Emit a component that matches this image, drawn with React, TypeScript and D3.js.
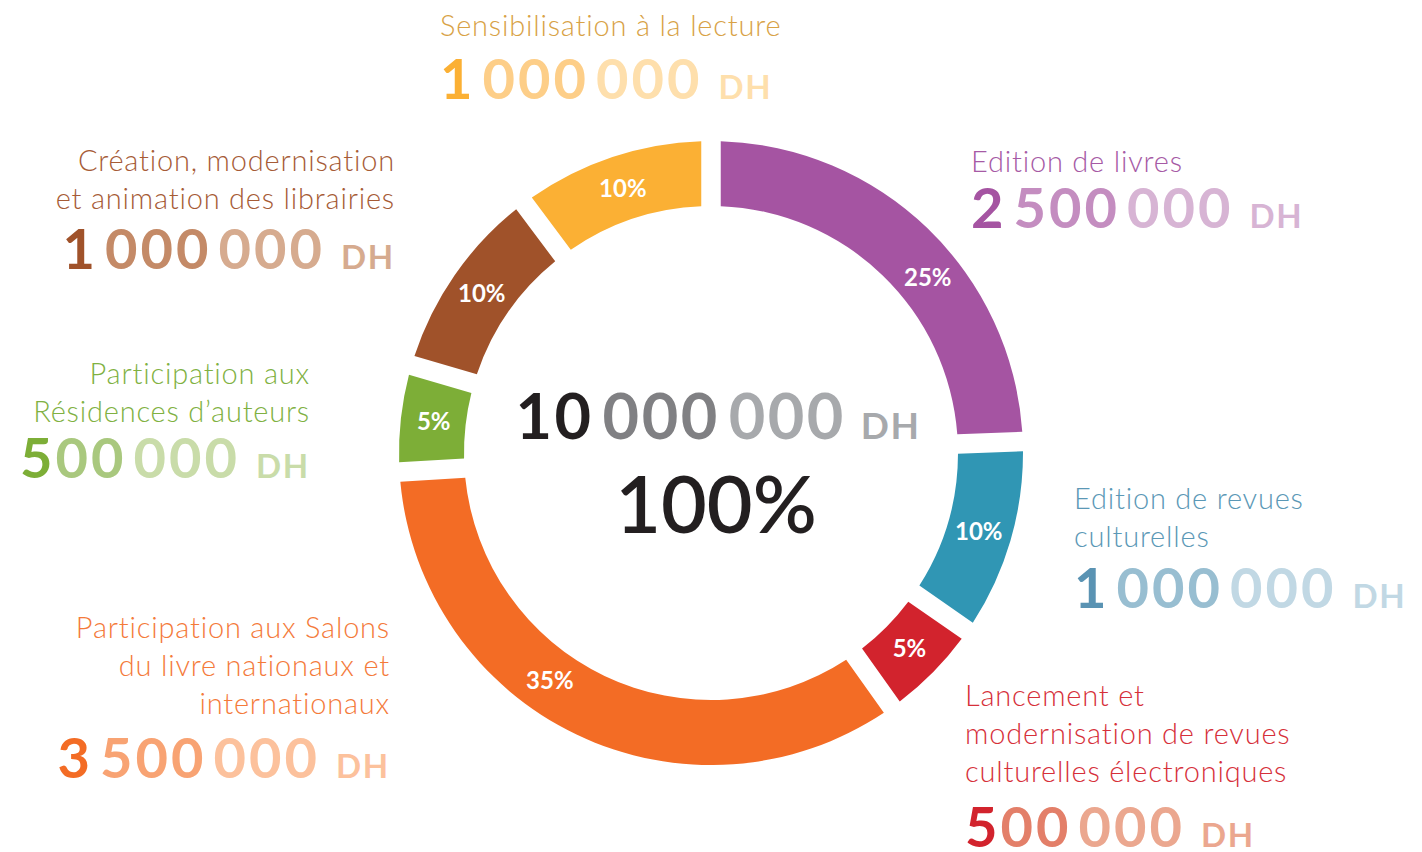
import React from "react";
import * as d3 from "d3";

// ---------- DATA ----------
const categories = [
  "Edition de livres",
  "Edition de revues culturelles",
  "Lancement et modernisation de revues culturelles électroniques",
  "Participation aux Salons du livre nationaux et internationaux",
  "Participation aux Résidences d’auteurs",
  "Création, modernisation et animation des librairies",
  "Sensibilisation à la lecture",
];
const values = [2500000, 1000000, 500000, 3500000, 500000, 1000000, 1000000];
const labelLines = [
  ["Edition de livres"],
  ["Edition de revues", "culturelles"],
  ["Lancement et", "modernisation de revues", "culturelles électroniques"],
  ["Participation aux Salons", "du livre nationaux et", "internationaux"],
  ["Participation aux", "Résidences d’auteurs"],
  ["Création, modernisation", "et animation des librairies"],
  ["Sensibilisation à la lecture"],
];
const currency = "DH";

// ---------- STYLE ----------
const sliceColors = ["#A554A2", "#3096B4", "#D2232D", "#F36C25", "#7DAE37", "#A0522A", "#FBB034"];
const textColors = ["#A65AA5", "#5B98B6", "#D6303A", "#F47A3A", "#80B142", "#A65B36", "#D8A246"];
const darkTones = ["#A554A2", "#5A93B3", "#D2232D", "#F36C25", "#7DAE37", "#A0522A", "#FBB034"];
const midTones = ["#C48DC0", "#98BED1", "#E37F69", "#F8A373", "#A9C87E", "#C48A67", "#FDCE88"];
const lightTones = ["#D7B4D4", "#C1D8E4", "#EBA78F", "#FCC19C", "#C9DCA9", "#D6AB8F", "#FEDFAC"];

// label layout: x, anchor, first line baseline, number baseline
const layout = [
  { x: 971, anchor: "start", y0: 172, numberY: 228 },
  { x: 1074, anchor: "start", y0: 509, numberY: 608 },
  { x: 965, anchor: "start", y0: 706, numberY: 847 },
  { x: 390, anchor: "end", y0: 638, numberY: 778 },
  { x: 310, anchor: "end", y0: 384, numberY: 478 },
  { x: 395, anchor: "end", y0: 171, numberY: 269 },
  { x: 440, anchor: "start", y0: 36, numberY: 99 },
];

const W = 1422;
const H = 852;
const cx = 711;
const cy = 453;
const outerR = 312;
const innerR = 247;
const FONT = "Lato, 'Open Sans', 'Noto Sans', sans-serif";

function splitNumber(v: number): string[] {
  const groups = d3.format(",")(v).split(",");
  if (groups.length === 2) {
    // e.g. 500 000 -> "5", "00", "000"
    return [groups[0].slice(0, 1), groups[0].slice(1), groups[1]];
  }
  return groups;
}

function NumberText({ v, x, y, anchor, tones, size, dhSize, weight, ls, gap, dhGap }: any) {
  const parts = splitNumber(v);
  const split = v < 1000000;
  return (
    <text
      x={x}
      y={y}
      textAnchor={anchor}
      fontFamily={FONT}
      fontWeight={weight}
      fontSize={size}
      letterSpacing={ls}
    >
      {parts.map((p, i) => (
        <tspan key={i} fill={tones[i]} dx={i === 0 ? 0 : split && i === 1 ? 0 : gap}>
          {p}
        </tspan>
      ))}
      <tspan fill={tones[2]} fontSize={dhSize} dx={dhGap} letterSpacing={ls * 0.6}>
        {currency}
      </tspan>
    </text>
  );
}

export default function App() {
  const total = d3.sum(values);
  const pie = d3
    .pie<number>()
    .value((d) => d)
    .sort(null)
    .padAngle(0.049);
  const arcs = pie(values);
  const arc = d3.arc<d3.PieArcDatum<number>>().innerRadius(innerR).outerRadius(outerR);
  const pctFmt = d3.format(".0%");
  const labelR = 279;

  return (
    <svg width={W} height={H} style={{ position: "absolute", left: 0, top: 0, background: "#fff" }}>
      <g transform={`translate(${cx},${cy})`}>
        {arcs.map((a, i) => (
          <path key={i} d={arc(a) || ""} fill={sliceColors[i]} />
        ))}
        {arcs.map((a, i) => {
          const span = a.endAngle - a.startAngle;
          const frac = values[i] / total > 0.2 ? 0.58 : 0.5;
          const ang = a.startAngle + span * frac;
          const x = Math.sin(ang) * labelR;
          const y = -Math.cos(ang) * labelR;
          return (
            <text
              key={i}
              x={x}
              y={y}
              dy="0.35em"
              textAnchor="middle"
              fill="#fff"
              fontFamily={FONT}
              fontWeight={700}
              fontSize={24}
            >
              {pctFmt(values[i] / total)}
            </text>
          );
        })}
      </g>

      {/* center */}
      <NumberText
        v={total}
        x={718}
        y={439}
        anchor="middle"
        tones={["#231F20", "#808083", "#A7A9AC"]}
        size={63}
        dhSize={37}
        weight={700}
        ls={2.5}
        gap={9}
        dhGap={15}
      />
      <text x={716} y={533} textAnchor="middle" fontFamily={FONT} fontWeight={600} fontSize={79} fill="#231F20">
        {pctFmt(1)}
      </text>

      {/* outside labels */}
      {categories.map((c, i) => {
        const L = layout[i];
        return (
          <g key={c}>
            <text
              x={L.x}
              textAnchor={L.anchor}
              fontFamily={FONT}
              fontWeight={300}
              fontSize={29}
              letterSpacing={0.8}
              fill={textColors[i]}
            >
              {labelLines[i].map((ln, j) => (
                <tspan key={j} x={L.x} y={L.y0 + j * 38}>
                  {ln}
                </tspan>
              ))}
            </text>
            <NumberText
              v={values[i]}
              x={L.x}
              y={L.numberY}
              anchor={L.anchor}
              tones={[darkTones[i], midTones[i], lightTones[i]]}
              size={56}
              dhSize={33}
              weight={700}
              ls={3}
              gap={7}
              dhGap={16}
            />
          </g>
        );
      })}
    </svg>
  );
}
